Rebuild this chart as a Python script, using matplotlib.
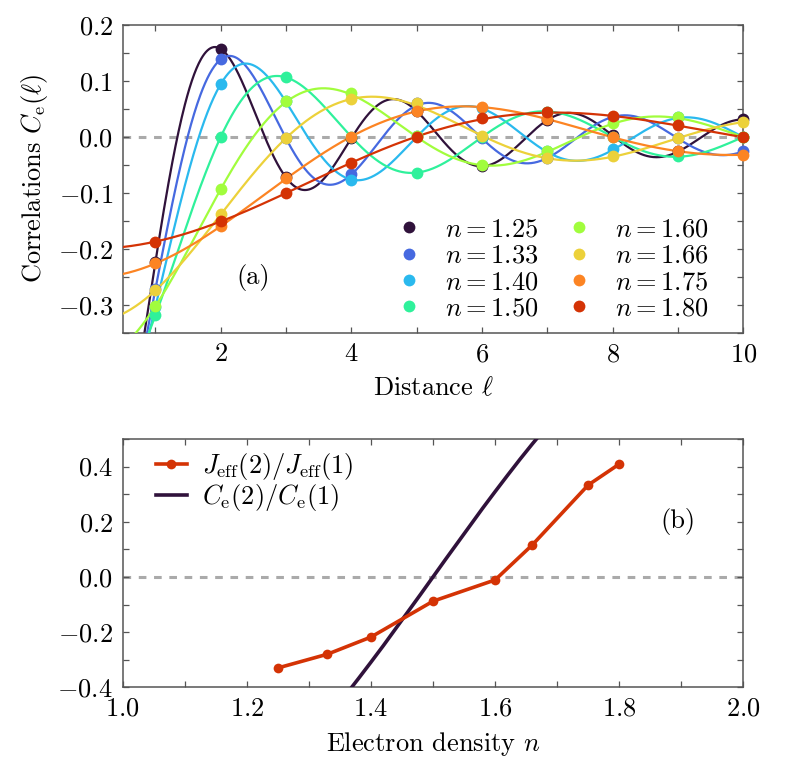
import numpy as np
import matplotlib
matplotlib.use("Agg")
import matplotlib.pyplot as plt
from matplotlib.ticker import MultipleLocator, FuncFormatter

plt.rcParams['font.family'] = 'cmr10'
plt.rcParams['mathtext.fontset'] = 'cm'
plt.rcParams['axes.formatter.use_mathtext'] = True
plt.rcParams['font.size'] = 19

# ---------------- data ----------------
distances = [1, 2, 3, 4, 5, 6, 7, 8, 9, 10]
densities = [1.25, 1.33, 1.40, 1.50, 1.60, 1.66, 1.75, 1.80]
density_labels = ["1.25", "1.33", "1.40", "1.50", "1.60", "1.66", "1.75", "1.80"]

corr_125 = [-0.224, 0.158, -0.072, -0.002, 0.047, -0.052, 0.031, 0.004, -0.025, 0.032]
corr_133 = [-0.272, 0.139, -0.002, -0.067, 0.060, -0.002, -0.038, 0.036, -0.002, -0.026]
corr_140 = [-0.304, 0.094, 0.064, -0.077, 0.001, 0.051, -0.025, -0.022, 0.036, 0.000]
corr_150 = [-0.319, 0.000, 0.108, 0.000, -0.064, 0.000, 0.045, 0.000, -0.035, 0.000]
corr_160 = [-0.302, -0.093, 0.064, 0.078, 0.001, -0.050, -0.025, 0.024, 0.036, 0.000]
corr_166 = [-0.274, -0.138, -0.002, 0.068, 0.060, 0.002, -0.038, -0.035, -0.002, 0.027]
corr_175 = [-0.226, -0.160, -0.074, 0.000, 0.047, 0.054, 0.032, 0.000, -0.025, -0.032]
corr_180 = [-0.187, -0.151, -0.100, -0.046, 0.000, 0.033, 0.044, 0.038, 0.021, 0.000]
correlations = [corr_125, corr_133, corr_140, corr_150, corr_160, corr_166, corr_175, corr_180]

jeff_density = [1.25, 1.33, 1.40, 1.50, 1.60, 1.66, 1.75, 1.80]
jeff_ratio = [-0.330, -0.280, -0.218, -0.088, -0.011, 0.116, 0.333, 0.409]

ce_density = [1.36, 1.38, 1.40, 1.42, 1.44, 1.46, 1.48, 1.50, 1.52, 1.54,
              1.56, 1.58, 1.60, 1.62, 1.64, 1.66, 1.68]
ce_ratio = [-0.426, -0.368, -0.309, -0.249, -0.187, -0.125, -0.063, 0.000, 0.063,
            0.125, 0.187, 0.249, 0.309, 0.368, 0.426, 0.482, 0.536]

# ---------------- style ----------------
colors = [plt.cm.turbo(v) for v in np.linspace(0.0, 0.87, len(densities))]
spine_col = '#555555'
zero_col = '#aaaaaa'
FS = 19


def style_axes(ax):
    for s in ax.spines.values():
        s.set_color(spine_col)
        s.set_linewidth(1.1)
    ax.tick_params(which='both', direction='in', top=True, right=True,
                   length=4.5, width=0.9, color=spine_col, labelsize=FS)
    ax.tick_params(which='major', pad=7)


def smooth_fit(x, y, xf):
    # smooth curve through the read points: least-squares damped-oscillation fit
    x = np.asarray(x, float)
    y = np.asarray(y, float)
    best = None
    for q in np.linspace(0.01, np.pi - 0.01, 3000):
        b = np.sin(q * x) / x
        a = np.dot(b, y) / np.dot(b, b)
        r = np.sum((y - a * b) ** 2)
        if best is None or r < best[0]:
            best = (r, q, a)
    _, q, a = best
    return a * np.sin(q * xf) / xf


def yfmt(v, p):
    return (r'$-%.1f$' % abs(v)) if v < -1e-9 else r'$%.1f$' % abs(v)


fig = plt.figure(figsize=(7.89, 7.68), dpi=100)
ax1 = fig.add_axes([0.1555, 0.5668, 0.7866, 0.4006])
ax2 = fig.add_axes([0.1555, 0.1051, 0.7866, 0.3233])

# ---------------- panel (a) ----------------
ax1.axhline(0, color=zero_col, lw=2.2, ls=(0, (2.5, 2.5)), zorder=1)
lf = np.linspace(0.5, 10, 800)
for i, (n, vals) in enumerate(zip(densities, correlations)):
    ax1.plot(lf, smooth_fit(distances, vals, lf), color=colors[i], lw=1.6, zorder=2 + i)
for i, (n, vals) in enumerate(zip(densities, correlations)):
    ax1.plot(distances, vals, 'o', color=colors[i], ms=8.5, mew=0, zorder=20 + i,
             label=r'$n = %s$' % density_labels[i], clip_on=False)

ax1.set_xlim(0.5, 10)
ax1.set_ylim(-0.35, 0.2)
ax1.xaxis.set_major_locator(MultipleLocator(2))
ax1.xaxis.set_minor_locator(MultipleLocator(1))
ax1.yaxis.set_major_locator(MultipleLocator(0.1))
ax1.yaxis.set_minor_locator(MultipleLocator(0.05))
ax1.yaxis.set_major_formatter(FuncFormatter(yfmt))
ax1.xaxis.set_major_formatter(FuncFormatter(lambda v, p: r'$%d$' % v))
style_axes(ax1)
ax1.set_xlabel(r'Distance $\ell$', fontsize=FS, labelpad=7)
ax1.set_ylabel(r'Correlations $C_{\rm e}(\ell)$', fontsize=FS, labelpad=6)
ax1.text(0.21, 0.18, '(a)', transform=ax1.transAxes, ha='center', va='center', fontsize=FS)
ax1.legend(ncol=2, loc='lower right', bbox_to_anchor=(0.96, 0.005), frameon=False,
           fontsize=FS, labelspacing=0.1, columnspacing=0.95, handletextpad=0.75,
           handlelength=1.2, borderaxespad=0.0)

# ---------------- panel (b) ----------------
ax2.axhline(0, color=zero_col, lw=2.2, ls=(0, (2.5, 2.5)), zorder=1)
ax2.plot(jeff_density, jeff_ratio, '-o', color=colors[-1], lw=2.6, ms=7, mew=0,
         zorder=4, label=r'$J_{\rm eff}(2)/J_{\rm eff}(1)$')
ax2.plot(ce_density, ce_ratio, '-', color=colors[0], lw=2.6, zorder=3,
         label=r'$C_{\rm e}(2)/C_{\rm e}(1)$')
ax2.set_xlim(1.0, 2.0)
ax2.set_ylim(-0.4, 0.5)
ax2.xaxis.set_major_locator(MultipleLocator(0.2))
ax2.xaxis.set_minor_locator(MultipleLocator(0.1))
ax2.yaxis.set_major_locator(MultipleLocator(0.2))
ax2.yaxis.set_minor_locator(MultipleLocator(0.1))
ax2.yaxis.set_major_formatter(FuncFormatter(yfmt))
ax2.xaxis.set_major_formatter(FuncFormatter(lambda v, p: r'$%.1f$' % v))
style_axes(ax2)
ax2.set_xlabel(r'Electron density $n$', fontsize=FS, labelpad=7)
ax2.text(0.895, 0.667, '(b)', transform=ax2.transAxes, ha='center', va='center', fontsize=FS)
ax2.legend(loc='upper left', bbox_to_anchor=(0.036, 0.995), frameon=False, fontsize=FS,
           labelspacing=0.02, handlelength=1.2, handletextpad=0.57, borderaxespad=0.0)

fig.savefig('out.png', dpi=100)
